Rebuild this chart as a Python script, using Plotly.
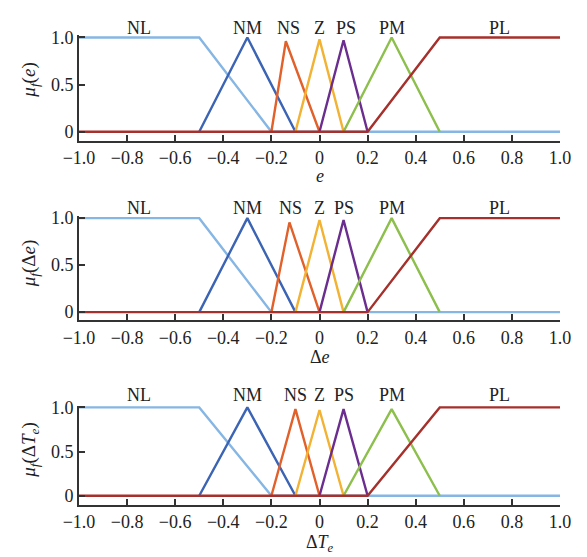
import plotly.graph_objects as go

# Membership-function breakpoints (x) and membership values (y) per panel
nl_x = [-1.0, -0.5, -0.2, 1.0]
nl_y = [1.0, 1.0, 0.0, 0.0]
nm_x = [-0.5, -0.3, -0.1]
nm_y = [0.0, 1.0, 0.0]
ns_x = [[-0.2, -0.14, 0.0], [-0.2, -0.125, 0.0], [-0.2, -0.1, 0.0]]
ns_y = [[0.0, 0.96, 0.0], [0.0, 0.955, 0.0], [0.0, 0.98, 0.0]]
z_x = [-0.1, 0.0, 0.1]
z_y = [[0.0, 0.98, 0.0], [0.0, 0.98, 0.0], [0.0, 0.97, 0.0]]
ps_x = [0.0, 0.1, 0.2]
ps_y = [[0.0, 0.97, 0.0], [0.0, 0.98, 0.0], [0.0, 0.98, 0.0]]
pm_x = [0.1, 0.3, 0.5]
pm_y = [[0.0, 1.0, 0.0], [0.0, 1.0, 0.0], [0.0, 0.98, 0.0]]
pl_x = [-1.0, 0.2, 0.5, 1.0]
pl_y = [0.0, 0.0, 1.0, 1.0]

set_names = ["NL", "NM", "NS", "Z", "PS", "PM", "PL"]
set_label_x = [[-0.75, -0.3, -0.13, 0.0, 0.11, 0.3, 0.75],
               [-0.75, -0.3, -0.12, 0.0, 0.1, 0.3, 0.75],
               [-0.75, -0.3, -0.1, 0.0, 0.1, 0.3, 0.75]]

x_tickvals = [-1.0, -0.8, -0.6, -0.4, -0.2, 0.0, 0.2, 0.4, 0.6, 0.8, 1.0]
x_ticktext = ["\u22121.0", "\u22120.8", "\u22120.6", "\u22120.4", "\u22120.2", "0",
              "0.2", "0.4", "0.6", "0.8", "1.0"]
y_tickvals = [0.0, 0.5, 1.0]
y_ticktext = ["0", "0.5", "1.0"]

x_titles = ["<i>e</i>", "\u0394<i>e</i>", "\u0394<i>T</i><sub><i>e</i></sub>"]
y_titles = ["<i>\u03bc<sub>f</sub></i>(<i>e</i>)",
            "<i>\u03bc<sub>f</sub></i>(\u0394<i>e</i>)",
            "<i>\u03bc<sub>f</sub></i>(\u0394<i>T<sub>e</sub></i>)"]

colors = {
    "NL": "#86b6e4", "NM": "#3c64b4", "NS": "#e2602a", "Z": "#f2b233",
    "PS": "#6b2d8f", "PM": "#8dbf4c", "PL": "#a6302b",
}

W, H = 587, 557
# panel pixel geometry: (domain top px, domain bottom px, y range, label px, y-title px, x-title px)
panels = [
    (28, 135, [-9 / 96, 1 + 2 / 96], 20, 73, 171),
    (212, 318, [-8.3 / 96, 1 + 2 / 96], 204, 260, 355),
    (405, 506, [-9.3 / 90, 1 + 1.7 / 90], 394, 450, 545),
]

fig = go.Figure()
font_family = "Liberation Serif"
lw = 2.4
annotations = []

for i, (top, bot, yr, lab_px, ytitle_px, xtitle_px) in enumerate(panels):
    xa = "x" if i == 0 else f"x{i+1}"
    ya = "y" if i == 0 else f"y{i+1}"
    series = [
        ("NL", nl_x, nl_y),
        ("NM", nm_x, nm_y),
        ("NS", ns_x[i], ns_y[i]),
        ("Z", z_x, z_y[i]),
        ("PS", ps_x, ps_y[i]),
        ("PM", pm_x, pm_y[i]),
        ("PL", pl_x, pl_y),
    ]
    for name, xs, ys in series:
        fig.add_trace(go.Scatter(x=xs, y=ys, mode="lines", name=name,
                                 line=dict(color=colors[name], width=lw),
                                 xaxis=xa, yaxis=ya, showlegend=False,
                                 hoverinfo="skip"))
    dom = [1 - bot / H, 1 - top / H]
    axx = dict(domain=[0, 1], range=[-1.0, 1.0], anchor=ya,
               tickvals=x_tickvals, ticktext=x_ticktext,
               ticks="inside", ticklen=6, tickwidth=1.6, tickcolor="#333",
               showline=True, linecolor="#333", linewidth=1.6,
               showgrid=False, zeroline=False,
               tickfont=dict(family=font_family, size=18, color="#222"))
    axy = dict(domain=dom, range=yr, anchor=xa,
               tickvals=y_tickvals, ticktext=y_ticktext,
               ticks="inside", ticklen=6, tickwidth=1.6, tickcolor="#333",
               showline=True, linecolor="#333", linewidth=1.6,
               showgrid=False, zeroline=False,
               tickfont=dict(family=font_family, size=18, color="#222"))
    fig.update_layout({("xaxis" if i == 0 else f"xaxis{i+1}"): axx,
                       ("yaxis" if i == 0 else f"yaxis{i+1}"): axy})
    for nm, lx in zip(set_names, set_label_x[i]):
        annotations.append(dict(x=lx, xref=xa, y=1 - lab_px / H, yref="paper",
                                text=nm, showarrow=False, xanchor="center",
                                yanchor="middle",
                                font=dict(family=font_family, size=18, color="#222")))
    annotations.append(dict(x=-0.102, xref="paper", y=1 - ytitle_px / H, yref="paper",
                            text=y_titles[i], textangle=-90, showarrow=False,
                            xanchor="center", yanchor="middle",
                            font=dict(family=font_family, size=19, color="#222")))
    annotations.append(dict(x=0.0, xref=xa, y=1 - xtitle_px / H, yref="paper",
                            text=x_titles[i], showarrow=False,
                            xanchor="center", yanchor="middle",
                            font=dict(family=font_family, size=18, color="#222")))

fig.update_layout(width=W, height=H, margin=dict(l=79, r=27, t=0, b=0),
                  paper_bgcolor="white", plot_bgcolor="white",
                  annotations=annotations)

fig.write_html("out.html", config={"displayModeBar": False},
               post_script=("document.body.style.margin='0px';"
                            "document.body.style.padding='0px';"
                            "var d=document.getElementById('{plot_id}');"
                            "d.style.position='fixed';d.style.top='0px';d.style.left='0px';"))
